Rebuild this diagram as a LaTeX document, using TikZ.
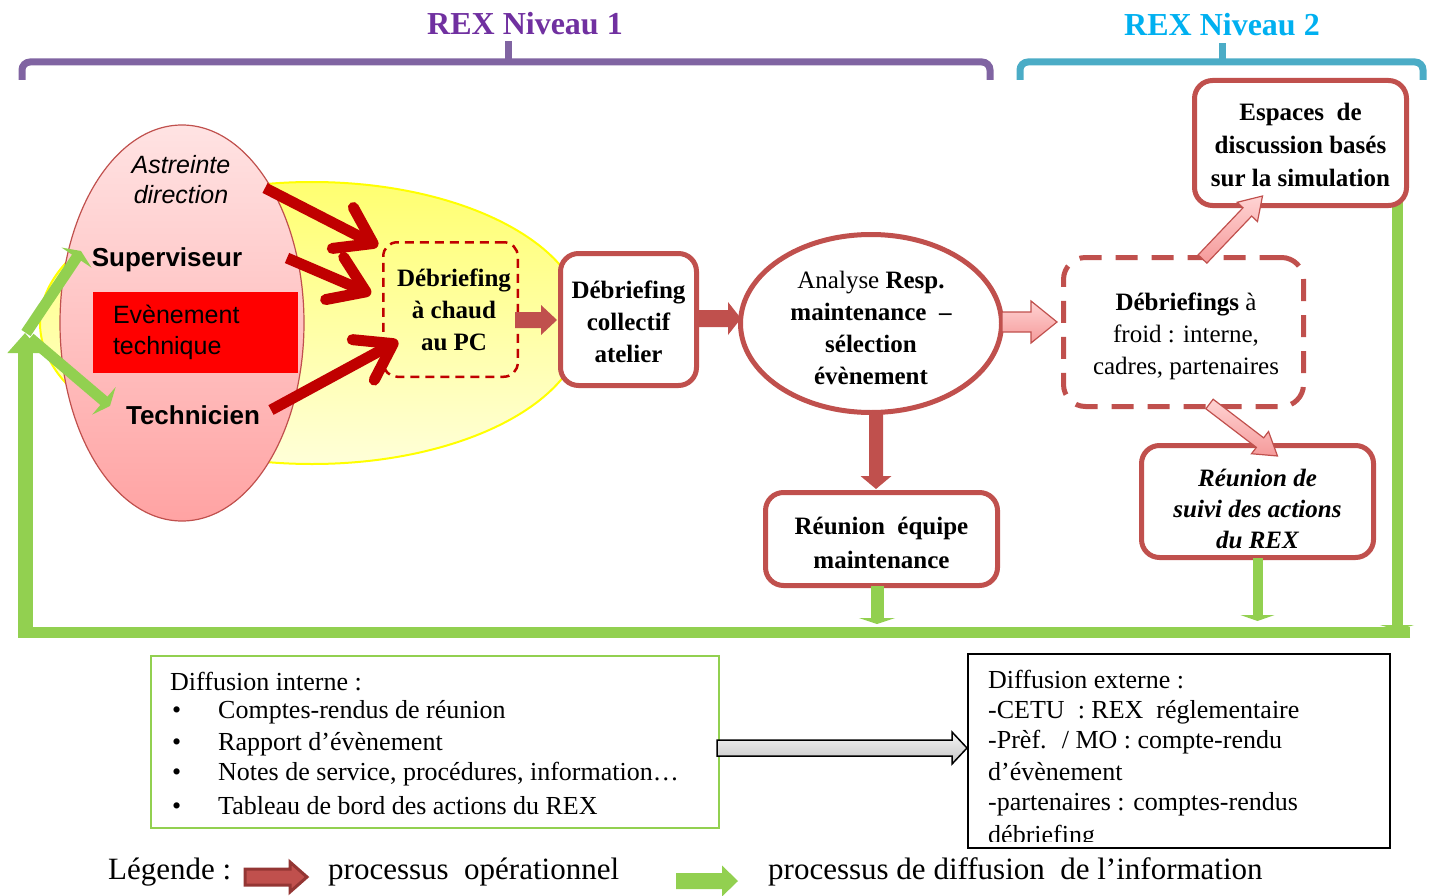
\documentclass[tikz,border=0pt]{standalone}
\usepackage{fontspec}
\setmainfont{Liberation Serif}
\setsansfont{Liberation Sans}
\usetikzlibrary{arrows.meta,calc,shapes.geometric}

\definecolor{boxred}{HTML}{C0504D}
\definecolor{darkred}{HTML}{C00000}
\definecolor{lgreen}{HTML}{92D050}
\definecolor{tpurple}{HTML}{7030A0}
\definecolor{bpurple}{HTML}{8064A2}
\definecolor{tblue}{HTML}{00B0F0}
\definecolor{bblue}{HTML}{4BACC6}
\definecolor{yel1}{HTML}{FFFF70}
\definecolor{yel2}{HTML}{FFFFD8}
\definecolor{yelb}{HTML}{FFFF00}
\definecolor{pinkt}{HTML}{FFE3E3}
\definecolor{pinkb}{HTML}{FFA3A3}
\definecolor{pk1}{HTML}{FFD3D3}
\definecolor{pk2}{HTML}{F59A9A}
\definecolor{legdark}{HTML}{943634}
\definecolor{purered}{HTML}{FF0000}

% block arrow: style, from, to, half shaft, half head, head length
\newcommand{\myblockarrow}[6]{%
  \path[#1] let \p1=(#2), \p2=(#3),
    \n1={atan2(\y2-\y1,\x2-\x1)}, \n2={veclen(\x2-\x1,\y2-\y1)} in
    [shift={(\p1)}, rotate=\n1]
    (0,#4) -- ({\n2-#6},#4) -- ({\n2-#6},#5) -- (\n2,0)
    -- ({\n2-#6},-#5) -- ({\n2-#6},-#4) -- (0,-#4) -- cycle;}

\tikzset{
  box/.style={draw=boxred, line width=5pt, rounded corners=18pt, fill=white,
    align=center, inner sep=0pt, font=\bfseries\fontsize{25}{32}\selectfont},
  boxtxt/.style={align=center, inner sep=0pt, font=\bfseries\fontsize{25}{32}\selectfont},
  body/.style={font=\fontsize{26}{30}\selectfont, anchor=west, inner sep=0pt},
  legtxt/.style={font=\fontsize{31}{34}\selectfont, anchor=west, inner sep=0pt},
  redarrow/.style={draw=darkred, line width=11pt,
    -{Straight Barb[length=34pt,width=46pt,round]}},
  greenline/.style={draw=lgreen, line width=11pt},
  greenarrow/.style={greenline, -{Triangle[length=8pt,width=36pt]}},
  oparrow/.style={fill=boxred},
  pinkarrow/.style={top color=pk1, bottom color=pk2, draw=boxred, line width=1.2pt},
  grayarrow/.style={top color=gray!8, bottom color=gray!45, draw=black, line width=1.5pt},
  brace1/.style={draw=bpurple, line width=7pt, rounded corners=8pt},
  brace2/.style={draw=bblue, line width=7pt, rounded corners=8pt},
}

\begin{document}
\begin{tikzpicture}[x=1pt,y=-1pt]
\useasboundingbox (0,0) rectangle (1431,896);

% background ellipses
\node[ellipse, minimum width=544pt, minimum height=282pt, draw=yelb, line width=2pt,
  top color=yel1, bottom color=yel2, inner sep=0pt] (yell) at (312,323) {};
\node[ellipse, minimum width=244pt, minimum height=396pt, draw=boxred, line width=1.2pt,
  top color=pinkt, bottom color=pinkb, inner sep=0pt] (pinkell) at (182,323) {};

% event rectangle
\node[fill=purered, minimum width=205pt, minimum height=81pt, inner sep=0pt,
  text width=165pt, align=left, font=\sffamily\fontsize{25}{31}\selectfont] (ev) at (195.5,332.5) {Evènement\\technique};

% green loop
\coordinate (rtop) at (1397,196);
\coordinate (rbot) at (1397,630);
\coordinate (bright) at (1410,632);
\coordinate (bleft) at (18,632);
\coordinate (lbot) at (25,637);
\coordinate (ltop) at (25,333);
\coordinate (gs1) at (26,333);
\coordinate (gs2) at (30,338);
\coordinate (gsup) at (81,251);
\coordinate (gtech) at (110,406);
\draw[greenline, -{Triangle[length=5pt,width=34pt]}] (rtop) -- (rbot);
\draw[greenline] (bright) -- (bleft);
\draw[greenline, line width=15pt, -{Triangle[length=20pt,width=34pt]}] (lbot) -- (ltop);
\draw[greenarrow] (gs1) -- (gsup);
\draw[greenarrow] (gs2) -- (gtech);

% texts in the pink ellipse
\node[font=\sffamily\itshape\fontsize{25}{30}\selectfont, align=center] (astr) at (181,180) {Astreinte\\direction};
\node[font=\sffamily\bfseries\fontsize{26}{30}\selectfont] (sup) at (167,260) {Superviseur};
\node[font=\sffamily\bfseries\fontsize{26}{30}\selectfont] (tech) at (193,415) {Technicien};

% braces and titles
\draw[brace1] (22,80) -- (22,62) -- (990,62) -- (990,80);
\draw[brace1] (508,64) -- (508,41);
\draw[brace2] (1020,80) -- (1020,62) -- (1423,62) -- (1423,80);
\draw[brace2] (1222,64) -- (1222,43);
\node[font=\bfseries\fontsize{32}{36}\selectfont, text=tpurple] (t1) at (525,24) {REX Niveau 1};
\node[font=\bfseries\fontsize{32}{36}\selectfont, text=tblue] (t2) at (1222,25) {REX Niveau 2};

% process boxes
\node[box, draw=darkred, fill=none, line width=2.5pt, dashed, dash pattern=on 9pt off 6pt,
  rounded corners=14pt, minimum width=134.5pt, minimum height=134.5pt] (hot) at (450.5,309.5) {};
\node[boxtxt] (hottxt) at (454,310) {Débriefing\\à chaud\\au PC};
\node[box, minimum width=136pt, minimum height=132pt] (coll) at (628.5,319.5) {};
\node[boxtxt] (colltxt) at (628.5,322) {Débriefing\\collectif\\atelier};
\node[box, ellipse, minimum width=261pt, minimum height=178pt] (ana) at (871,323.5) {};
\node[boxtxt] (anatxt) at (871,328) {{\mdseries Analyse} Resp.\\maintenance\ \ –\\sélection\\évènement};
\node[box, minimum width=232pt, minimum height=93pt] (reu) at (881.5,539) {};
\node[boxtxt, font=\bfseries\fontsize{25}{34}\selectfont] (reutxt) at (881.5,543) {Réunion\ \ équipe\\maintenance};
\node[box, dashed, dash pattern=on 22pt off 14pt, rounded corners=22pt,
  minimum width=240pt, minimum height=149pt] (froid) at (1183.5,332) {};
\node[boxtxt] (froidtxt) at (1186,336) {Débriefings {\mdseries à}\\{\mdseries froid : interne,}\\{\mdseries cadres, partenaires}};
\node[box, minimum width=212pt, minimum height=125pt] (esp) at (1300.5,143) {};
\node[boxtxt, font=\bfseries\fontsize{25}{33}\selectfont] (esptxt) at (1300.5,145) {Espaces\ \ de\\discussion basés\\sur la simulation};
\node[box, minimum width=232pt, minimum height=112pt] (suivi) at (1257.5,501.5) {};
\node[boxtxt, font=\bfseries\itshape\fontsize{25}{31}\selectfont] (suivitxt) at (1257.5,509)
  {Réunion de\\suivi des actions\\du REX};

% green arrows down from boxes
\draw[greenline, line width=13pt, -{Triangle[length=6pt,width=36pt]}] ($(reu.south)+(-4.5,-2)$) -- ($(reu.south)+(-4.5,36)$);
\draw[greenline, line width=10pt, -{Triangle[length=6pt,width=34pt]}] ($(suivi.south)+(0,-2)$) -- ($(suivi.south)+(0,61)$);

% operational block arrows
\myblockarrow{oparrow}{$(hot.east)+(-4,10.5)$}{$(coll.west)+(-1,0.5)$}{8}{15}{16}
\myblockarrow{oparrow}{$(coll.east)+(-1,-1)$}{$(coll.east -| ana.west)+(3,-1)$}{8.5}{16.5}{13}
\myblockarrow{oparrow}{$(ana.south)+(5,-3)$}{$(ana.south |- reu.north)+(5,-1)$}{7}{15.5}{13}
\myblockarrow{pinkarrow}{$(ana.east)+(-2,-1.5)$}{$(ana.east -| froid.west)+(-4,-1.5)$}{10}{21}{26}
\myblockarrow{pinkarrow}{$(froid.north)+(19,4)$}{$(esp.south)+(-38,-12)$}{6}{14}{22}
\myblockarrow{pinkarrow}{$(froid.south)+(26,-5)$}{$(suivi.north)+(20,13)$}{6}{14}{22}

% red arrows towards hot debriefing
\coordinate (r1s) at (265,188);
\coordinate (r2s) at (287,258);
\coordinate (r3s) at (271,410);
\draw[redarrow] (r1s) -- ($(hot.north west)+(-4,5)$);
\draw[redarrow] (r2s) -- ($(hot.west)+(-11,-15.5)$);
\draw[redarrow] (r3s) -- ($(hot.west)+(16,31.5)$);

% diffusion boxes
\node[draw=lgreen, line width=2pt, minimum width=568pt, minimum height=172pt, inner sep=0pt] (int) at (435,742) {};
\node[draw=black, line width=2pt, minimum width=422pt, minimum height=194pt, inner sep=0pt] (ext) at (1179,751) {};
\node[body] (i0) at (170,682) {Diffusion interne :};
\node[body] (i1) at (172,712) {\makebox[46pt][l]{•}Comptes-rendus de réunion};
\node[body] (i2) at (172,744) {\makebox[46pt][l]{•}Rapport d’évènement};
\node[body] (i3) at (172,774) {\makebox[46pt][l]{•}Notes de service, procédures, information…};
\node[body] (i4) at (172,806) {\makebox[46pt][l]{•}Tableau de bord des actions du REX};
\node[body] (e1) at (988,680) {Diffusion externe :};
\node[body] (e2) at (988,712) {-CETU~ : REX~ réglementaire};
\node[body] (e3) at (988,742) {-Prèf.~ / MO : compte-rendu};
\node[body] (e4) at (988,772) {d’évènement};
\node[body] (e5) at (988,804) {-partenaires : comptes-rendus};
\begin{scope}
\clip (968,655) rectangle (1390,841);
\node[body] (e6) at (988,837) {débriefing};
\end{scope}
\myblockarrow{grayarrow}{$(int.east)+(-3,6)$}{$(int.east -| ext.west)+(0,6)$}{8}{16}{15}

% legend
\node[legtxt] (leg) at (108,872) {Légende :};
\coordinate (lo1) at (245,877);
\coordinate (lo2) at (307,877);
\myblockarrow{fill=boxred, draw=legdark, line width=3pt}{lo1}{lo2}{8}{15}{17}
\node[legtxt] (leg1) at (328,872) {processus~ opérationnel};
\coordinate (lg1) at (676,881);
\coordinate (lg2) at (738,881);
\myblockarrow{fill=lgreen}{lg1}{lg2}{8}{15.5}{16}
\node[legtxt] (leg2) at (768,872) {processus de diffusion~ de l’information};
\end{tikzpicture}
\end{document}
